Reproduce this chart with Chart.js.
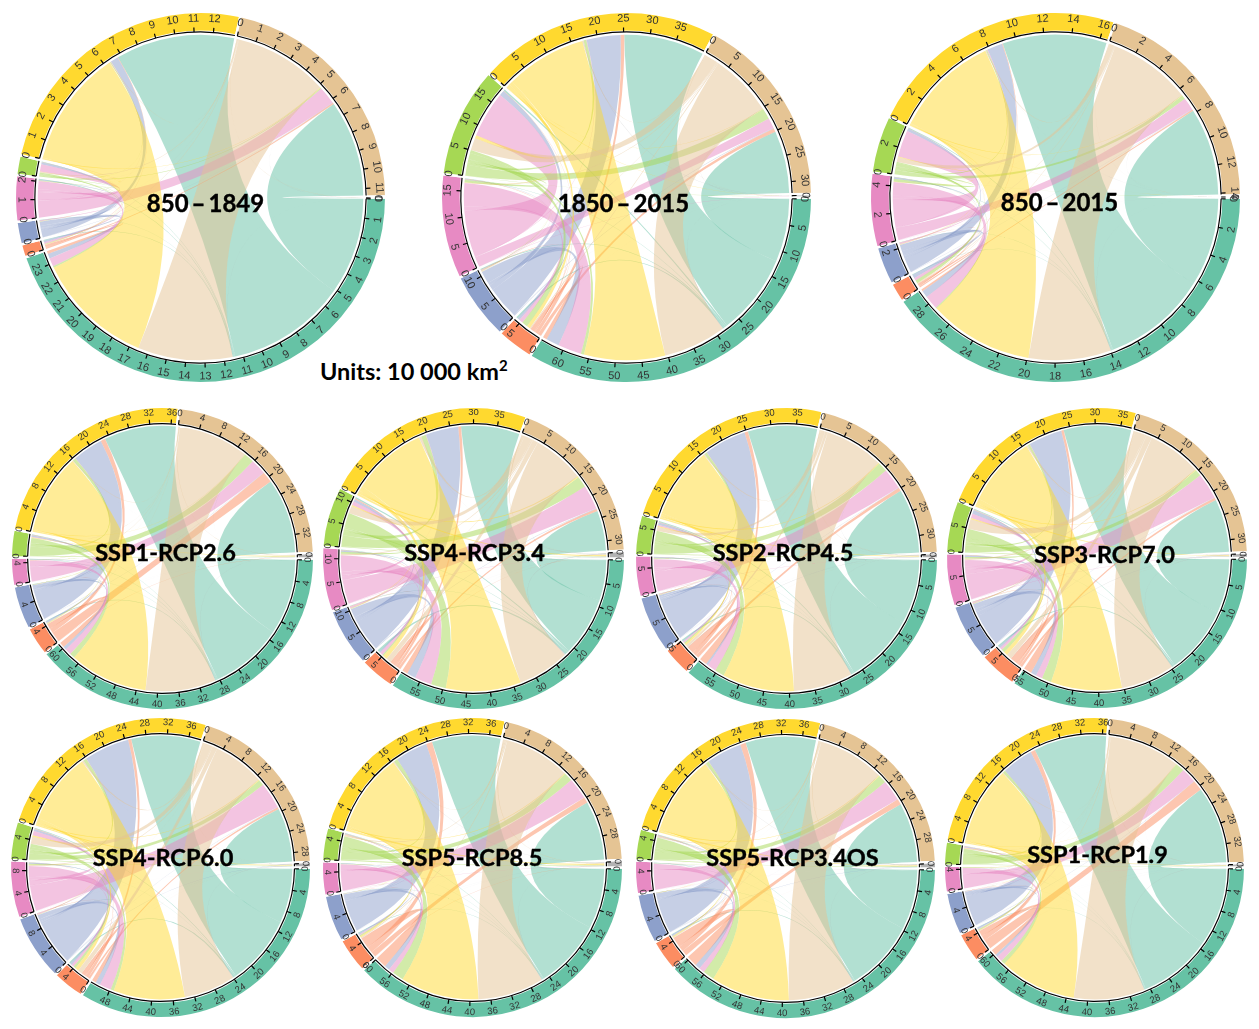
<!DOCTYPE html>
<html>
<head>
<meta charset="utf-8">
<title>Land use transitions</title>
<script src="https://cdn.jsdelivr.net/npm/chart.js@4/dist/chart.umd.min.js"></script>
<style>
    body { margin: 0; background: #fff; }
    #page { position: relative; width: 1259px; height: 1029px; overflow: hidden; }
    #page canvas { position: absolute; }
    #units { position: absolute; left: 320px; top: 357px; font: 700 23.5px Lato, sans-serif; color: #000; white-space: nowrap; }
    #units sup { font-size: 15px; line-height: 0; }
</style>
</head>
<body>
<div id="page">
    <div id="units">Units: 10 000 km<sup>2</sup></div>
</div>
<script>
const sectors = ['teal', 'orange', 'blue', 'pink', 'green', 'yellow', 'tan', 'gray'];
const sectorColors = ['#66c2a5', '#fc8d62', '#8da0cb', '#e78ac3', '#a6d854', '#ffd92f', '#e5c494', '#b3b3b3'];
const ribbonColors = ['rgba(102,194,165,0.5)', 'rgba(252,141,98,0.5)', 'rgba(141,160,203,0.5)', 'rgba(231,138,195,0.5)',
    'rgba(166,216,84,0.5)', 'rgba(255,217,47,0.5)', 'rgba(229,196,148,0.5)', 'rgba(179,179,179,0.5)'];

const panelTitles = ['850\u2009–\u20091849', '1850\u2009–\u20092015', '850\u2009–\u20092015', 'SSP1-RCP2.6', 'SSP4-RCP3.4', 'SSP2-RCP4.5',
    'SSP3-RCP7.0', 'SSP4-RCP6.0', 'SSP5-RCP8.5', 'SSP5-RCP3.4OS', 'SSP1-RCP1.9'];
const tickSteps = [1, 5, 2, 4, 5, 5, 5, 4, 4, 4, 4];
const tickTops = [
    [23, 0, 0, 2, 1, 12, 11, 0],
    [60, 5, 10, 15, 15, 35, 30, 0],
    [28, 0, 2, 4, 2, 16, 14, 0],
    [60, 4, 4, 4, 0, 36, 32, 0],
    [55, 5, 10, 10, 10, 35, 30, 0],
    [55, 5, 5, 5, 5, 35, 30, 0],
    [55, 5, 5, 5, 5, 35, 30, 0],
    [48, 4, 8, 8, 4, 36, 28, 0],
    [60, 4, 4, 4, 4, 36, 28, 0],
    [60, 4, 4, 4, 4, 36, 28, 0],
    [60, 4, 4, 4, 0, 36, 32, 0]
];

// each row: flow out of that sector into teal, orange, blue, pink, green, yellow, tan, gray
const flows850to1849 = [
    [0, .05, .02, .03, .03, 6.3, 5.1, .01],
    [.15, 0, 0, 0, .01, .03, .08, 0],
    [.25, .12, 0, .04, .12, .4, .02, 0],
    [.45, .1, .05, 0, .45, .02, .95, 0],
    [.08, .03, .01, .03, 0, .04, .05, 0],
    [6.2, .02, .01, .01, .02, 0, .03, 0],
    [5, .02, .01, .01, .04, .03, 0, .01],
    [.01, 0, 0, 0, 0, 0, .01, 0]
];
const flows1850to2015 = [
    [0, .3, .2, .1, .3, 15.4, 12, .1],
    [.8, 0, .1, .1, .1, .7, .7, .01],
    [2.5, .5, 0, .1, 1, 6.5, .1, .01],
    [4.5, .8, .1, 0, 9, .1, 2, .02],
    [.6, 1.2, .1, .5, 0, .5, 2.1, .05],
    [15.5, .7, .02, .05, .6, 0, .1, .1],
    [12, .2, .1, .1, 2.4, .2, 0, .05],
    [.1, 0, 0, 0, 0, .05, .1, 0]
];
const flows850to2015 = [
    [0, .05, .02, .03, .05, 7.5, 6.3, .02],
    [.14, 0, .02, .02, .02, .05, .1, 0],
    [.5, .3, 0, .1, .2, 1.1, .03, 0],
    [1, .22, .1, 0, 2, .05, .9, .01],
    [.08, .25, .02, .2, 0, .08, .3, .01],
    [7.5, .03, .01, .02, .05, 0, .05, .02],
    [5.9, .05, .02, .02, .35, .05, 0, .01],
    [.02, 0, 0, 0, 0, .01, .02, 0]
];
const flowsSsp126 = [
    [0, .15, .1, .1, .15, 13.8, 14.4, .1],
    [1, 0, .02, .02, .1, .9, 2.1, .05],
    [.6, .3, 0, .1, .3, 5.8, .05, .02],
    [1.2, .05, .02, 0, .1, .05, 3, .03],
    [1, .1, .02, .05, 0, .6, 1.9, .15],
    [15, .1, .02, .03, .1, 0, .1, .3],
    [13.4, .05, .02, .03, .05, .1, 0, .1],
    [.08, .01, 0, 0, .01, .02, .05, 0]
];
const flowsSsp434 = [
    [0, .5, .1, .1, .3, 12.5, 8.6, .1],
    [1.2, 0, .1, .1, .2, .6, .5, .05],
    [1.9, .3, 0, .3, .6, 7, .1, .02],
    [3.6, .7, .3, 0, .8, .1, 5.2, .05],
    [3.2, .3, .1, .4, 0, 1, 2.4, .2],
    [16, 1, .05, .05, .3, 0, .3, .4],
    [11, 1.1, .1, .3, 1.6, .5, 0, .2],
    [.2, .02, 0, .01, .02, .05, .1, 0]
];
const flowsSsp245 = [
    [0, .3, .05, .05, .2, 13.8, 12.8, .1],
    [1.5, 0, .05, .1, .1, .7, .7, .03],
    [.4, .2, 0, .2, .5, 8.4, .05, .02],
    [1.8, .3, .1, 0, .3, .05, 4.2, .03],
    [1.9, .3, .05, .1, 0, .5, 1.9, .15],
    [14.3, .4, .02, .03, .2, 0, .2, .3],
    [11.7, .5, .03, .05, .8, .2, 0, .1],
    [.1, .02, 0, 0, .02, .03, .05, 0]
];
const flowsSsp370 = [
    [0, .3, .05, .05, .2, 13.4, 10.6, .1],
    [1.6, 0, .1, .1, .1, .5, .5, .03],
    [1.1, .4, 0, .3, .8, 6.7, .05, .02],
    [1.3, .5, .2, 0, .9, .05, 5.2, .03],
    [1.9, .7, .1, .3, 0, .4, 1.3, .15],
    [14.1, .8, .02, .03, .3, 0, .2, .3],
    [10.6, 1.1, .05, .3, 2, .3, 0, .1],
    [.1, .02, 0, 0, .02, .03, .05, 0]
];
const flowsSsp460 = [
    [0, .3, .05, .05, .15, 13.1, 10.2, .1],
    [.8, 0, .05, .05, .1, .6, .4, .03],
    [.9, .4, 0, .2, .4, 8.6, .05, .02],
    [2.2, .5, .2, 0, .9, .05, 5, .03],
    [.6, .5, .05, .2, 0, .6, 1.1, .15],
    [13.5, .7, .02, .03, .3, 0, .2, .25],
    [9.7, .9, .03, .2, 1.4, .3, 0, .1],
    [.1, .02, 0, 0, .02, .03, .05, 0]
];
const flowsSsp585 = [
    [0, .15, .05, .05, .1, 13.4, 11.6, .1],
    [2.2, 0, .02, .02, .1, 1.2, 1.1, .03],
    [1, .3, 0, .1, .1, 6.3, .03, .02],
    [1, .2, .05, 0, .05, .03, 4.2, .05],
    [2.2, .2, .02, .03, 0, .7, 1.7, .25],
    [15.3, .3, .02, .03, .1, 0, .2, .4],
    [12.8, .2, .02, .03, .2, .2, 0, .2],
    [.1, .02, 0, 0, .02, .03, .05, 0]
];
const flowsSsp534os = [
    [0, .15, .05, .05, .1, 13.7, 11.6, .1],
    [2.1, 0, .02, .02, .1, 1.1, 1.1, .03],
    [1, .2, 0, .1, .1, 6.9, .03, .02],
    [1.1, .1, .05, 0, .05, .03, 4.1, .05],
    [2.2, .1, .02, .03, 0, .6, 1.6, .2],
    [15.3, .2, .02, .03, .1, 0, .2, .3],
    [12.9, .1, .02, .03, .15, .15, 0, .15],
    [.1, .02, 0, 0, .02, .03, .05, 0]
];
const flowsSsp119 = [
    [0, .1, .05, .05, .1, 13.9, 14.8, .08],
    [1.1, 0, .02, .02, .1, .9, 2, .03],
    [.5, .3, 0, .05, .15, 6, .03, .02],
    [1.1, .1, .02, 0, .1, .03, 2.9, .03],
    [.8, .2, .02, .03, 0, .5, 1.7, .12],
    [14.7, .1, .02, .03, .1, 0, .1, .25],
    [13.5, .1, .02, .03, .08, .08, 0, .1],
    [.05, .01, 0, 0, .01, .02, .03, 0]
];
const panelFlows = [flows850to1849, flows1850to2015, flows850to2015, flowsSsp126, flowsSsp434, flowsSsp245,
    flowsSsp370, flowsSsp460, flowsSsp585, flowsSsp534os, flowsSsp119];

// where the circles sit on the page: centre x, centre y, outer radius
const panelBoxes = [[200, 197, 184.5], [626, 197, 184.5], [1055, 197.5, 184.5],
    [162, 558.5, 150.5], [473, 558.5, 150.5], [786.5, 558.5, 150.5], [1096.5, 558, 150],
    [160.5, 867, 149.5], [472.5, 867, 149.5], [785, 868, 149.5], [1094, 867, 149.5]];
// title centre on the page
const titleSpots = [[205, 204], [623, 204], [1059, 203], [165, 553], [474, 553], [783, 553],
    [1104, 555], [163, 858], [472, 858], [792, 858], [1097, 855]];

const page = document.getElementById('page');

function sectorTotals(flows) {
    return flows.map(function (row, i) {
        let sum = 0;
        for (let j = 0; j < row.length; j++) sum += row[j] + flows[j][i];
        return sum;
    });
}

// links sit outflows first, then inflows, both from the last sector down to the first
function layoutLinks(flows, arcs, totals, pad) {
    const n = flows.length;
    let outEnds = [], inEnds = [];
    for (let s = 0; s < n; s++) {
        outEnds.push([]);
        inEnds.push([]);
        let k = Math.max(arcs[s].endAngle - arcs[s].startAngle - 2 * pad, 0) / totals[s];
        let a = arcs[s].startAngle + pad;
        for (let t = n - 1; t >= 0; t--) {
            outEnds[s][t] = [a, a + flows[s][t] * k];
            a += flows[s][t] * k;
        }
        for (let t = n - 1; t >= 0; t--) {
            inEnds[s][t] = [a, a + flows[t][s] * k];
            a += flows[t][s] * k;
        }
    }
    return {outEnds: outEnds, inEnds: inEnds};
}

const chordPlugin = {
    id: 'chord',
    afterDatasetsDraw(chart, args, opts) {
        const ctx = chart.ctx;
        const arcs = chart.getDatasetMeta(0).data;
        const cx = arcs[0].x, cy = arcs[0].y;
        const outer = opts.radius, inner = arcs[0].innerRadius;
        const r = outer * 0.882;
        const pad = 1.4 / outer;
        const totals = chart.data.datasets[0].data;
        const links = layoutLinks(opts.flows, arcs, totals, pad);

        ctx.save();
        for (let s = 0; s < opts.flows.length; s++) {
            for (let t = 0; t < opts.flows.length; t++) {
                if (opts.flows[s][t] <= 0) continue;
                let a = links.outEnds[s][t], b = links.inEnds[t][s];
                ctx.beginPath();
                ctx.arc(cx, cy, r, a[0], a[1]);
                ctx.quadraticCurveTo(cx, cy, cx + r * Math.cos(b[0]), cy + r * Math.sin(b[0]));
                ctx.arc(cx, cy, r, b[0], b[1]);
                ctx.quadraticCurveTo(cx, cy, cx + r * Math.cos(a[0]), cy + r * Math.sin(a[0]));
                ctx.closePath();
                ctx.fillStyle = ribbonColors[s];
                ctx.fill();
            }
        }

        // axis line, ticks and tick labels of every sector
        for (let s = 0; s < arcs.length; s++) {
            let k = Math.max(arcs[s].endAngle - arcs[s].startAngle - 2 * pad, 0) / totals[s];
            let a0 = arcs[s].startAngle + pad;
            ctx.beginPath();
            ctx.arc(cx, cy, inner, a0, a0 + totals[s] * k);
            ctx.strokeStyle = '#000';
            ctx.lineWidth = 1.2;
            ctx.stroke();
            for (let v = 0; v <= opts.tops[s] && v <= totals[s]; v += opts.step) {
                let a = a0 + v * k;
                ctx.beginPath();
                ctx.moveTo(cx + inner * Math.cos(a), cy + inner * Math.sin(a));
                ctx.lineTo(cx + (inner + 4.5) * Math.cos(a), cy + (inner + 4.5) * Math.sin(a));
                ctx.stroke();
                let lr = outer * 0.97;
                ctx.save();
                ctx.translate(cx + lr * Math.cos(a), cy + lr * Math.sin(a));
                ctx.rotate(Math.sin(a) > 0 ? a - Math.PI / 2 : a + Math.PI / 2);
                ctx.font = opts.tickSize + 'px "Liberation Sans", sans-serif';
                ctx.fillStyle = '#333';
                ctx.textAlign = 'center';
                ctx.textBaseline = 'middle';
                ctx.fillText(String(v), 0, 0);
                ctx.restore();
            }
        }

        ctx.font = '700 ' + opts.titleSize + 'px Lato, sans-serif';
        ctx.fillStyle = '#000';
        ctx.strokeStyle = '#000';
        ctx.lineWidth = 0.4;
        ctx.textAlign = 'center';
        ctx.textBaseline = 'middle';
        ctx.fillText(opts.title, opts.titleX, opts.titleY);
        ctx.strokeText(opts.title, opts.titleX, opts.titleY);
        ctx.restore();
    }
};

for (let p = 0; p < panelTitles.length; p++) {
    let box = panelBoxes[p];
    let size = Math.round(2 * box[2] + 8);
    let left = box[0] - size / 2, top = box[1] - size / 2;
    let canvas = document.createElement('canvas');
    canvas.width = size;
    canvas.height = size;
    canvas.style.left = left + 'px';
    canvas.style.top = top + 'px';
    page.appendChild(canvas);

    new Chart(canvas, {
        type: 'doughnut',
        data: {
            labels: sectors,
            datasets: [{
                data: sectorTotals(panelFlows[p]),
                backgroundColor: sectorColors,
                borderColor: '#fff',
                borderWidth: 2.5
            }]
        },
        options: {
            responsive: false,
            animation: false,
            events: [],
            radius: box[2] + 1.25,
            cutout: box[2] * 0.905,
            rotation: 90,
            layout: {padding: 0},
            plugins: {
                legend: {display: false},
                tooltip: {enabled: false},
                chord: {
                    flows: panelFlows[p],
                    step: tickSteps[p],
                    tops: tickTops[p],
                    radius: box[2],
                    title: panelTitles[p],
                    titleX: titleSpots[p][0] - left,
                    titleY: titleSpots[p][1] - top,
                    titleSize: p < 3 ? 24 : 23.5,
                    tickSize: p < 3 ? 11 : 9.5
                }
            }
        },
        plugins: [chordPlugin]
    });
}
</script>
</body>
</html>
